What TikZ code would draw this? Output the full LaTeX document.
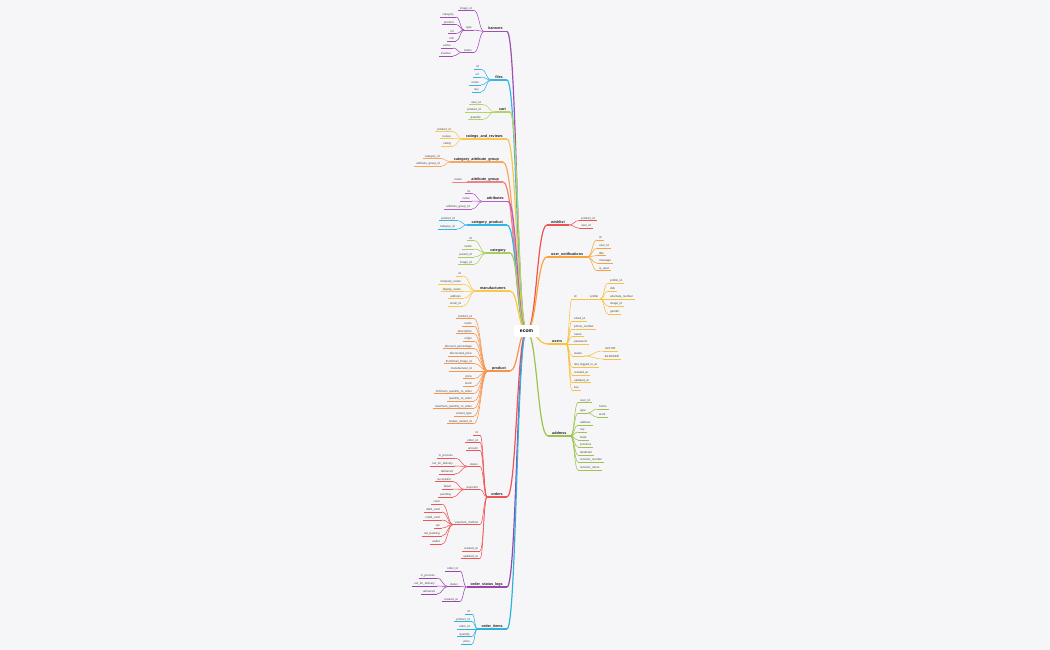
\documentclass[tikz,border=0pt]{standalone}
\usepackage{fontspec}
\setmainfont{Liberation Sans}
\usetikzlibrary{calc}
\pgfdeclarelayer{bg}
\pgfdeclarelayer{links}
\pgfsetlayers{bg,links,main}
\definecolor{bgc}{HTML}{F6F6F9}
\definecolor{cBan}{HTML}{A04DB6}
\definecolor{cFil}{HTML}{36B5E5}
\definecolor{cCrt}{HTML}{B3D465}
\definecolor{cRat}{HTML}{F9C74F}
\definecolor{cCag}{HTML}{F9A55A}
\definecolor{cAgr}{HTML}{F37F80}
\definecolor{cAtt}{HTML}{B45FC7}
\definecolor{cCpr}{HTML}{2EB6E8}
\definecolor{cCat}{HTML}{A6CF5A}
\definecolor{cMan}{HTML}{F9C846}
\definecolor{cPro}{HTML}{F7944A}
\definecolor{cOrd}{HTML}{EE5555}
\definecolor{cOsl}{HTML}{9A45AE}
\definecolor{cOit}{HTML}{2FB2DA}
\definecolor{cWis}{HTML}{EF5350}
\definecolor{cUno}{HTML}{F9A43A}
\definecolor{cUsr}{HTML}{F7C23C}
\definecolor{cAdr}{HTML}{9CC44A}
\tikzset{
 leaf/.style={font=\fontsize{2.9}{3.4}\selectfont, text=black!72, inner xsep=2pt, inner ysep=0.6pt, text height=2.1pt, text depth=0.6pt},
 topn/.style={font=\fontsize{3.7}{4.4}\selectfont\bfseries, text=black!88, inner xsep=4pt, inner ysep=0.8pt, text height=2.7pt, text depth=0.8pt},
 rootn/.style={font=\fontsize{5}{6}\selectfont\bfseries, text=black, fill=white, rounded corners=1.5pt, minimum width=25pt, minimum height=12pt, inner sep=1pt},
 ul/.style={line width=0.5pt},
 tul/.style={line width=1.1pt},
 lnk/.style={line width=0.55pt},
 tlnk/.style={line width=1.2pt},
}
\newcommand\lk[3]{\draw[#3] let \p1=(#1), \p2=(#2), \n1={0.5*(\x1+\x2)} in (\p1) .. controls (\n1,\y1) and (\n1,\y2) .. (\p2);}
\newcommand\ltop[4]{%
 \node[topn,anchor=south east] (#1) at (#2) {#3};
 \draw[tul,#4] (#1.south west) -- (#1.south east);
 \begin{pgfonlayer}{links}\lk{ecom.center}{#1.south east}{tlnk,#4}\end{pgfonlayer}}
\newcommand\rtop[4]{%
 \node[topn,anchor=south west] (#1) at (#2) {#3};
 \draw[tul,#4] (#1.south west) -- (#1.south east);
 \begin{pgfonlayer}{links}\lk{ecom.center}{#1.south west}{tlnk,#4}\end{pgfonlayer}}
\newcommand\lkids[4]{%
 \foreach \yy/\tx [count=\i] in {#4} {
  \node[leaf,anchor=south east] (#1-\i) at (#2,\yy) {\tx};
  \draw[ul,#3] (#1-\i.south west) -- (#1-\i.south east);
  \begin{pgfonlayer}{links}\lk{#1.south west}{#1-\i.south east}{lnk,#3}\end{pgfonlayer}
 }}
\newcommand\rkids[4]{%
 \foreach \yy/\tx [count=\i] in {#4} {
  \node[leaf,anchor=south west] (#1-\i) at (#2,\yy) {\tx};
  \draw[ul,#3] (#1-\i.south west) -- (#1-\i.south east);
  \begin{pgfonlayer}{links}\lk{#1.south east}{#1-\i.south west}{lnk,#3}\end{pgfonlayer}
 }}
\begin{document}
\begin{tikzpicture}[x=1pt,y=-1pt]
\begin{pgfonlayer}{bg}
\fill[bgc] (0,0) rectangle (1050,650);
\end{pgfonlayer}
\useasboundingbox (0,0) rectangle (1050,650);
\node[rootn] (ecom) at (526.5,331) {ecom};
% left side
\ltop{ban}{507,31.5}{banners}{cBan}
\lkids{ban}{474}{cBan}{10.5/image\_id, 30/type, 52.5/status}
\lkids{ban-2}{456}{cBan}{17/category, 24.5/product, 33.5/url, 41/null}
\lkids{ban-3}{453}{cBan}{48/active, 56/inactive}
\ltop{fil}{507,80}{files}{cFil}
\lkids{fil}{481}{cFil}{69/id, 77/url, 85/name, 92/key}
\ltop{crt}{510,112}{cart}{cCrt}
\lkids{crt}{483}{cCrt}{104.5/user\_id, 112/product\_id, 119.5/quantity}
\ltop{rat}{507,139}{ratings\_and\_reviews}{cRat}
\lkids{rat}{453}{cRat}{131.5/product\_id, 138.5/review, 146/rating}
\ltop{cag}{503,162}{category\_attribute\_group}{cCag}
\lkids{cag}{442}{cCag}{158.5/category\_id, 166/attribute\_group\_id}
\ltop{agr}{503,182}{attribute\_group}{cAgr}
\lkids{agr}{464}{cAgr}{182/name}
\ltop{att}{508,201.5}{attributes}{cAtt}
\lkids{att}{472}{cAtt}{193.5/id, 201/name, 209/attribute\_group\_id}
\ltop{cpr}{507,225}{category\_product}{cCpr}
\lkids{cpr}{457}{cCpr}{220.5/product\_id, 229/category\_id}
\ltop{cat}{510,253}{category}{cCat}
\lkids{cat}{474}{cCat}{240.5/id, 249/name, 257/parent\_id, 264.5/image\_id}
\ltop{man}{510,291}{manufacturers}{cMan}
\lkids{man}{463}{cMan}{276/id, 284/company\_name, 291.5/display\_name, 298.5/address, 306/email\_id}
\ltop{pro}{510,371}{product}{cPro}
\lkids{pro}{474}{cPro}{318.5/product\_id, 326/name, 333.5/description, 341/origin, 348.5/discount\_percentage, 356/discounted\_price, 363.5/thumbnail\_image\_id, 371/manufacturer\_id, 378.5/price, 386/stock, 393.5/minimum\_quantity\_to\_order, 401/quantity\_to\_order, 408.5/maximum\_quantity\_to\_order, 416/variant\_type, 423.5/master\_variant\_id}
\ltop{ord}{507,497}{orders}{cOrd}
\lkids{ord}{480}{cOrd}{435/id, 442.5/order\_id, 450.5/amount, 466.5/status, 489.5/payment, 524.5/payment\_method, 551/created\_at, 558.5/updated\_at}
\lkids{ord-4}{455}{cOrd}{458/in\_process, 466/out\_for\_delivery, 474/delivered}
\lkids{ord-5}{453}{cOrd}{481.5/successful, 489/failed, 497/pending}
\lkids{ord-6}{442}{cOrd}{504/cash, 512/debit\_card, 520/credit\_card, 528/upi, 536/net\_banking, 544/wallet}
\ltop{osl}{507,587}{order\_status\_logs}{cOsl}
\lkids{osl}{460}{cOsl}{571/order\_id, 586.5/status, 601.5/created\_at}
\lkids{osl-2}{437}{cOsl}{578/in\_process, 586/out\_for\_delivery, 594/delivered}
\ltop{oit}{507,629}{order\_items}{cOit}
\lkids{oit}{472}{cOit}{614/id, 621.5/product\_id, 629/order\_id, 636.5/quantity, 644/price}
% right side
\rtop{wis}{547,225}{wishlist}{cWis}
\rkids{wis}{579}{cWis}{220.5/product\_id, 228/user\_id}
\rtop{uno}{547,257}{user\_notifications}{cUno}
\rkids{uno}{597}{cUno}{240/id, 248/user\_id, 255.5/title, 263/message, 270.5/is\_read}
\rtop{usr}{548,344}{users}{cUsr}
\rkids{usr}{572}{cUsr}{299/id, 321/email\_id, 329/phone\_number, 336.5/name, 344/password, 356/status, 367/last\_logged\_in\_at, 375/created\_at, 382.5/updated\_at, 390/key}
\rkids{usr-1}{588}{cUsr}{299/profile}
\rkids{usr-1-1}{608}{cUsr}{283/profile\_id, 291/dob, 299/alternate\_number, 306/image\_id, 314/gender}
\rkids{usr-6}{603}{cUsr}{351/ACTIVE, 359/BLOCKED}
\rtop{adr}{548,436}{address}{cAdr}
\rkids{adr}{578}{cAdr}{402.5/user\_id, 413/type, 425/address, 432/city, 440/state, 447/province, 455/landmark, 462/receiver\_number, 470/receiver\_name}
\rkids{adr-2}{597}{cAdr}{409/home, 417/work}
\end{tikzpicture}
\end{document}
